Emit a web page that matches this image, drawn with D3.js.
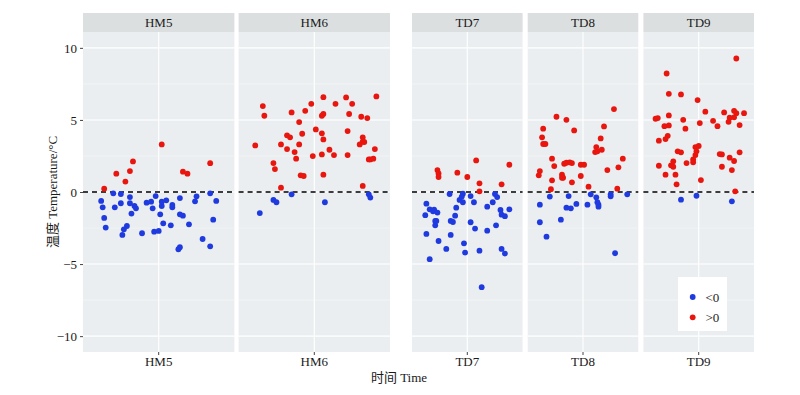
<!DOCTYPE html>
<html>
<head>
<meta charset="utf-8">
<script src="https://cdn.jsdelivr.net/npm/d3@7"></script>
<style>
  body { margin: 0; background: #fff; }
  svg text { font-family: "Liberation Serif", "Noto Sans CJK SC", serif; fill: #1a1a1a; }
</style>
</head>
<body>
<div id="vis-container"></div>
<script>
// groups of facets
var hmGroups = ["HM5", "HM6"];
var tdGroups = ["TD7", "TD8", "TD9"];
var yTicks = [-10, -5, 0, 5, 10];
var legendLabels = ["<0", ">0"];

// temperature values per facet (°C) and horizontal jitter (fraction of panel width)
var hm5Values = [0.23, 1.27, 0.72, 1.45, 2.12, 3.3, 1.41, 1.27, 2.0,
  -0.62, -1.06, -1.8, -2.47, -0.09, -1.06, -0.14, -0.78, -2.98, -2.59, -2.36, -0.35,
  -0.78, -1.5, -0.97, -1.13, -2.86, -0.74, -0.67, -1.13, -2.75, -0.28, -2.7, -1.55,
  -0.67, -0.97, -2.17, -0.58, -2.31, -0.9, -1.06, -0.42, -1.55, -1.64, -3.97, -3.83,
  -2.24, -0.65, -0.3, -3.26, -3.77, -0.09, -1.92, -0.62];
var hm5Jitter = [-0.36, -0.28, -0.22, -0.19, -0.17, 0.02, 0.16, 0.19, 0.34,
  -0.38, -0.37, -0.36, -0.35, -0.30, -0.29, -0.25, -0.25, -0.24, -0.23, -0.21, -0.19,
  -0.19, -0.18, -0.16, -0.15, -0.11, -0.08, -0.05, -0.04, -0.03, -0.02, 0.00, 0.01,
  0.02, 0.02, 0.03, 0.05, 0.08, 0.09, 0.09, 0.14, 0.14, 0.16, 0.13, 0.14,
  0.20, 0.24, 0.25, 0.29, 0.34, 0.34, 0.36, 0.38];

var hm6Values = [5.96, 5.29, 3.23, 2.01, 1.59, 0.3, 3.3, 3.93, 3.79, 2.98, 5.52, 2.77,
  2.31, 4.85, 3.3, 4.04, 1.16, 1.11, 5.63, 6.12, 2.49, 4.34, 5.29, 5.41, 4.07, 3.65,
  2.61, 1.2, 6.58, 2.93, 2.56, 6.12, 6.56, 4.23, 5.41, 2.56, 6.12, 5.22, 5.13, 3.79,
  3.49, 3.3, 3.47, 2.98, 2.26, 2.26, 2.31, 0.42, 6.63,
  -0.55, -0.71, -0.16, -0.71, -0.16, -0.39, -1.46];
var hm6Jitter = [-0.34, -0.33, -0.39, -0.27, -0.26, -0.22, -0.22, -0.18, -0.16, -0.18, -0.15, -0.13,
  -0.12, -0.10, -0.10, -0.08, -0.09, -0.07, -0.06, -0.02, -0.01, 0.01, 0.05, 0.06, 0.05, 0.06,
  0.05, 0.06, 0.06, 0.10, 0.13, 0.14, 0.21, 0.22, 0.23, 0.22, 0.25, 0.31, 0.35, 0.32,
  0.32, 0.30, 0.33, 0.40, 0.36, 0.37, 0.39, 0.32, 0.41,
  -0.27, -0.25, -0.15, 0.07, 0.36, 0.37, -0.36];

var td7Values = [1.52, 1.29, 1.04, 1.34, 1.04, 2.19, 0.6, 0.05, 0.53, 1.89,
  -0.14, -0.81, -1.2, -1.34, -1.23, -1.43, -1.61, -2.01, -2.01, -2.31, -2.91, -3.4,
  -4.66, -3.95, -2.01, -2.08, -1.64, -1.09, -2.98, -0.55, -0.32, -0.12, -0.71, -3.56,
  -4.2, -2.1, -0.28, -0.71, -2.54, -4.07, -6.6, -1.02, -2.68, -0.71, -0.14, -0.35,
  -2.31, -1.25, -1.57, -1.68, -3.95, -4.27, -1.2];
var td7Jitter = [-0.27, -0.26, -0.26, -0.09, 0.00, 0.08, 0.11, 0.11, 0.31, 0.38,
  -0.16, -0.37, -0.34, -0.31, -0.30, -0.27, -0.38, -0.29, -0.28, -0.29, -0.37, -0.26,
  -0.34, -0.19, -0.15, -0.13, -0.11, -0.10, -0.15, -0.07, -0.05, -0.04, -0.04, -0.03,
  -0.02, 0.03, 0.03, 0.06, 0.07, 0.11, 0.13, 0.18, 0.18, 0.23, 0.25, 0.27,
  0.26, 0.30, 0.31, 0.34, 0.31, 0.34, 0.38];

var td8Values = [5.75, 5.22, 5.01, 4.39, 4.27, 4.55, 3.79, 3.72, 3.33, 3.33, 3.12, 2.93,
  2.77, 2.82, 2.31, 2.31, 1.8, 1.96, 2.03, 2.06, 2.01, 1.89, 1.89, 1.71, 1.52, 1.45,
  1.16, 1.2, 0.99, 0.99, 1.11, 0.81, 0.67, 0.37, 0.19, 0.23,
  -0.32, -0.88, -2.1, -3.1, -1.92, -1.09, -1.13, -0.28, -0.83, -0.88, -0.16, -0.37,
  -0.71, -0.88, -1.02, -0.16, -0.3, -0.16, -4.25];
var td8Jitter = [0.28, -0.24, -0.15, -0.36, -0.08, 0.19, -0.37, 0.16, -0.36, -0.34, 0.12, 0.17,
  0.11, 0.13, -0.28, 0.36, -0.26, -0.17, -0.15, -0.12, -0.10, -0.02, 0.01, 0.32, 0.22, -0.39,
  -0.40, -0.19, -0.18, -0.19, -0.02, -0.28, -0.10, 0.05, -0.29, 0.31,
  -0.30, -0.39, -0.39, -0.33, -0.20, -0.15, -0.11, -0.13, -0.06, 0.04, 0.07, 0.12,
  0.13, 0.14, 0.14, 0.25, 0.25, 0.40, 0.29];

var td9Values = [9.26, 8.22, 6.81, 6.77, 6.38, 5.57, 5.52, 5.63, 5.47, 5.47, 5.31, 5.08,
  5.13, 5.01, 4.94, 5.15, 4.87, 5.18, 4.57, 4.62, 4.39, 4.78, 4.57, 4.64, 3.9, 3.67,
  3.56, 2.82, 2.75, 3.12, 3.19, 2.82, 2.56, 2.26, 2.06, 2.01, 2.13, 1.85, 1.75, 1.82,
  2.63, 2.61, 2.38, 2.15, 2.75, 1.75, 1.52, 1.2, 1.2, 0.83, 0.53, 0.05,
  -0.53, -0.26, -0.65];
var td9Jitter = [0.34, -0.29, -0.27, -0.16, -0.01, 0.06, 0.23, 0.32, 0.34, 0.41, -0.27, -0.39,
  -0.37, -0.14, 0.13, 0.28, 0.27, 0.32, -0.31, -0.27, -0.12, 0.01, 0.17, 0.37, -0.28, -0.30,
  -0.36, -0.19, -0.16, -0.03, 0.00, -0.02, -0.03, -0.05, -0.05, -0.11, -0.23, -0.25, -0.23, -0.36,
  0.19, 0.21, 0.28, 0.32, 0.37, 0.21, 0.30, -0.30, -0.21, 0.02, -0.20, 0.33,
  -0.16, -0.02, 0.30];

var facetValues = { HM5: hm5Values, HM6: hm6Values, TD7: td7Values, TD8: td8Values, TD9: td9Values };
var facetJitter = { HM5: hm5Jitter, HM6: hm6Jitter, TD7: td7Jitter, TD8: td8Jitter, TD9: td9Jitter };

var width = 800, height = 395;
var plotTop = 32, plotBottom = 352, stripTop = 13;
var blue = "#1f3be0", red = "#e8160e";

var svg = d3.select("#vis-container")
  .append("svg")
    .attr("width", width)
    .attr("height", height);

var yScale = d3.scaleLinear()
  .domain([-11.1, 11.1])
  .range([plotBottom, plotTop]);

var hmScale = d3.scaleBand().domain(hmGroups).range([83, 390]).paddingInner(0.027);
var tdScale = d3.scaleBand().domain(tdGroups).range([412, 754]).paddingInner(0.044);

var minorTicks = d3.range(-10, 10.1, 2.5).filter(function(d) { return d % 5 !== 0; });

function drawPanel(name, band) {
  var x0 = band(name), bw = band.bandwidth();
  var xScale = d3.scaleLinear().domain([-0.5, 0.5]).range([x0, x0 + bw]);
  var g = svg.append("g").attr("class", "panel");

  g.append("rect")
    .attr("x", x0).attr("y", plotTop)
    .attr("width", bw).attr("height", plotBottom - plotTop)
    .attr("fill", "#ebeef0");

  // grid
  g.selectAll(".minor").data(minorTicks).enter().append("line")
    .attr("x1", x0).attr("x2", x0 + bw)
    .attr("y1", function(d) { return yScale(d); })
    .attr("y2", function(d) { return yScale(d); })
    .attr("stroke", "#f7f8f9").attr("stroke-width", 0.6);
  g.selectAll(".major").data(yTicks).enter().append("line")
    .attr("x1", x0).attr("x2", x0 + bw)
    .attr("y1", function(d) { return yScale(d); })
    .attr("y2", function(d) { return yScale(d); })
    .attr("stroke", "#fff").attr("stroke-width", 1.1);
  g.append("line")
    .attr("x1", xScale(0)).attr("x2", xScale(0))
    .attr("y1", plotTop).attr("y2", plotBottom)
    .attr("stroke", "#fff").attr("stroke-width", 1.1);

  // strip
  g.append("rect")
    .attr("x", x0).attr("y", stripTop)
    .attr("width", bw).attr("height", plotTop - stripTop)
    .attr("fill", "#dcdfe0");
  g.append("text")
    .attr("x", xScale(0)).attr("y", 22.5)
    .attr("dy", "0.35em")
    .attr("text-anchor", "middle")
    .attr("font-size", 13)
    .text(name);

  // zero line
  g.append("line")
    .attr("x1", x0).attr("x2", x0 + bw)
    .attr("y1", yScale(0)).attr("y2", yScale(0))
    .attr("stroke", "#000").attr("stroke-width", 1.6)
    .attr("stroke-dasharray", "5,4");

  var pts = facetValues[name].map(function(v, i) { return { v: v, j: facetJitter[name][i] }; });
  g.selectAll(".pt").data(pts).enter().append("circle")
    .attr("class", "pt")
    .attr("cx", function(d) { return xScale(d.j); })
    .attr("cy", function(d) { return yScale(d.v); })
    .attr("r", 2.9)
    .attr("fill", function(d) { return d.v < 0 ? blue : red; });

  // x tick + label
  g.append("line")
    .attr("x1", xScale(0)).attr("x2", xScale(0))
    .attr("y1", plotBottom).attr("y2", plotBottom + 3)
    .attr("stroke", "#444");
  g.append("text")
    .attr("x", xScale(0)).attr("y", 361)
    .attr("dy", "0.35em")
    .attr("text-anchor", "middle")
    .attr("font-size", 13)
    .text(name);
}

hmGroups.forEach(function(n) { drawPanel(n, hmScale); });
tdGroups.forEach(function(n) { drawPanel(n, tdScale); });

// y axis on the first panel
var yAxis = d3.axisLeft(yScale).tickValues(yTicks).tickSize(3).tickPadding(3);
var ya = svg.append("g")
  .attr("class", "y axis")
  .attr("transform", "translate(83,0)")
  .call(yAxis);
ya.select(".domain").remove();
ya.selectAll("line").attr("stroke", "#444");
ya.selectAll("text").attr("font-size", 13).attr("fill", "#1a1a1a");

// axis titles
svg.append("text")
  .attr("x", 399).attr("y", 377)
  .attr("dy", "0.35em")
  .attr("text-anchor", "middle")
  .attr("font-size", 13)
  .text("时间 Time");

svg.append("text")
  .attr("transform", "translate(52,192) rotate(-90)")
  .attr("dy", "0.35em")
  .attr("text-anchor", "middle")
  .attr("font-size", 13)
  .text("温度 Temperature/°C");

// legend
var legend = svg.append("g").attr("transform", "translate(678,277)");
legend.append("rect")
  .attr("width", 49).attr("height", 54)
  .attr("fill", "#fff");
legend.selectAll(".key").data(legendLabels).enter().append("circle")
  .attr("cx", 14.7)
  .attr("cy", function(d, i) { return 20 + i * 20.3; })
  .attr("r", 2.9)
  .attr("fill", function(d, i) { return i === 0 ? blue : red; });
legend.selectAll(".lab").data(legendLabels).enter().append("text")
  .attr("x", 27.5)
  .attr("y", function(d, i) { return 20 + i * 20.3; })
  .attr("dy", "0.35em")
  .attr("font-size", 13)
  .text(function(d) { return d; });
</script>
</body>
</html>
